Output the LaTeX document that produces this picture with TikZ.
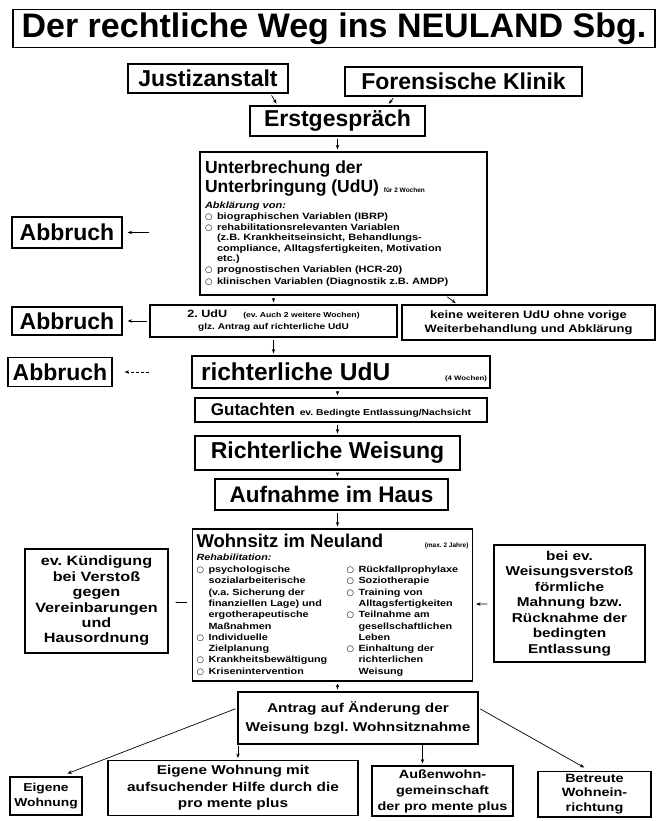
\documentclass[tikz,border=0pt]{standalone}
\usepackage{fontspec}
\setmainfont{Liberation Sans}
\newfontfamily\widefont{Liberation Sans}[FakeStretch=1.2]
\newfontfamily\bulfont{DejaVu Sans}
\usetikzlibrary{arrows.meta}
\parindent=0pt
\frenchspacing
\newcommand\fs[2]{\fontsize{#1}{#2}\selectfont}
\newcommand\bul{{\bulfont\fs{8.5}{8.5}○}}
\newcommand\itm{\par\hangindent=12pt\hangafter=1\noindent\makebox[12pt][l]{\bul}}

\begin{document}
\begin{tikzpicture}[x=1pt, y=-1pt,
 every node/.style = {shape=rectangle, draw, line width=1.2pt, align=flush center, inner sep=3pt},
 htext/.style = {font=\bfseries\fs{#1}{#1}},
 wtext/.style 2 args = {font=\bfseries\widefont\fs{#1}{#2}},
 arr/.style = {-{Stealth[length=4.5pt,width=3.5pt]}, line width=0.7pt, shorten <=2pt, shorten >=2pt}]
\useasboundingbox (0,0) rectangle (658,821);

 \node (title) [htext=34, text width=636pt, minimum height=37pt] at (334,28.5) {Der rechtliche Weg ins NEULAND Sbg.};
 \node (justiz) [htext=23, text width=154pt, minimum height=29pt] at (208,78.5) {Justizanstalt};
 \node (forens) [htext=23, text width=231pt, minimum height=29pt] at (463.5,81.5) {Forensische Klinik};
 \node (erst) [htext=23, text width=169pt, minimum height=30pt] at (337.5,121) {Erstgespräch};

 \node (udu) [font=\bfseries, align=flush left, text width=277pt, inner xsep=5pt, minimum height=143pt] at (343.5,223.5)
 {\fs{17.5}{19}Unterbrechung der\\ Unterbringung (UdU) {\fs{6.5}{7}für 2 Wochen}\\[6pt]
 \widefont\fs{9.2}{10.6}\itshape Abklärung von:\upshape
 \itm biographischen Variablen (IBRP)
 \itm rehabilitationsrelevanten Variablen\newline (z.B. Krankheitseinsicht, Behandlungs-\newline compliance, Alltagsfertigkeiten, Motivation\newline etc.)
 \itm prognostischen Variablen (HCR-20)
 \itm klinischen Variablen (Diagnostik z.B. AMDP)};

 \node (abbr1) [htext=23, text width=104pt, minimum height=31pt] at (67,232.5) {Abbruch};
 \node (udu2) [wtext={8.4}{12}, text width=241pt, minimum height=32pt] at (273.5,321)
 {{\fs{10.5}{12}2. UdU}\hspace{16pt}{\fs{7.2}{8}(ev. Auch 2 weitere Wochen)}\\ glz. Antrag auf richterliche UdU};
 \node (keine) [wtext={10.8}{13.5}, text width=247pt, minimum height=35pt] at (528.5,322.5)
 {keine weiteren UdU ohne vorige\\ Weiterbehandlung und Abklärung};
 \node (abbr2) [htext=23, text width=104pt, minimum height=28pt] at (67,321) {Abbruch};
 \node (abbr3) [htext=23, text width=98pt, minimum height=29pt] at (60,372) {Abbruch};
 \node (richtudu) [htext=24.5, align=flush left, text width=292pt, minimum height=32pt] at (341,372)
 {\hspace*{6pt}richterliche UdU\hfill{\widefont\fs{6.5}{7}(4 Wochen)}};
 \node (gut) [htext=17, text width=286pt, minimum height=24pt] at (341,410)
 {Gutachten {\widefont\fs{8.6}{9}ev. Bedingte Entlassung/Nachsicht}};
 \node (weis) [htext=23, text width=259pt, minimum height=34pt] at (327.5,453) {Richterliche Weisung};
 \node (aufn) [htext=22.5, text width=227pt, minimum height=31pt] at (331.5,494.5) {Aufnahme im Haus};

 % Wohnsitz mit zwei Spalten
 \node (wohn) [font=\bfseries, align=flush left, text width=272pt, inner xsep=4pt, minimum height=152pt] at (332.5,605)
 {\fs{18.5}{20}Wohnsitz im Neuland\hfill{\fs{6.5}{7}(max. 2 Jahre)}\\[2pt]
 \widefont\fs{9}{11.3}\itshape Rehabilitation:\upshape\par
 \begin{minipage}[t]{150pt}\raggedright
 \itm psychologische\newline sozialarbeiterische\newline (v.a. Sicherung der\newline finanziellen Lage) und\newline ergotherapeutische\newline Maßnahmen
 \itm Individuelle\newline Zielplanung
 \itm Krankheitsbewältigung
 \itm Krisenintervention\end{minipage}%
 \begin{minipage}[t]{122pt}\raggedright
 \itm Rückfallprophylaxe
 \itm Soziotherapie
 \itm Training von\newline Alltagsfertigkeiten
 \itm Teilnahme am\newline gesellschaftlichen\newline Leben
 \itm Einhaltung der\newline richterlichen\newline Weisung\end{minipage}};

 \node (kuend) [wtext={13.5}{15.4}, text width=137pt, minimum height=104pt] at (96.5,601)
 {ev. Kündigung\\ bei Verstoß\\ gegen\\ Vereinbarungen\\ und\\ Hausordnung};
 \node (mahn) [wtext={12.8}{15.5}, text width=145pt, minimum height=117pt] at (569.5,603.5)
 {bei ev.\\ Weisungsverstoß\\ förmliche\\ Mahnung bzw.\\ Rücknahme der\\ bedingten\\ Entlassung};
 \node (antrag) [wtext={12.8}{19}, text width=234pt, minimum height=52pt] at (358,718)
 {Antrag auf Änderung der\\ Weisung bzgl. Wohnsitznahme};

 \node (eig) [wtext={11.5}{15}, text width=66pt, minimum height=38pt] at (46,796) {Eigene\\ Wohnung};
 \node (eigmit) [wtext={12.8}{16.5}, text width=244pt, minimum height=55pt] at (233,788)
 {Eigene Wohnung mit\\ aufsuchender Hilfe durch die\\ pro mente plus};
 \node (aussen) [wtext={12}{16}, text width=135pt, minimum height=50pt] at (442.5,791)
 {Außenwohn-\\ gemeinschaft\\ der pro mente plus};
 \node (betr) [wtext={12}{14.5}, text width=107pt, minimum height=40pt] at (594.5,794)
 {Betreute\\ Wohnein-\\ richtung};

 \draw[arr] ([xshift=-18pt]justiz.south east) -- ([xshift=28pt]erst.north west);
 \draw[arr] ([xshift=50pt]forens.south west) -- ([xshift=-38pt]erst.north east);
 \draw[arr] (erst) -- (udu.north -| erst);
 \draw[arr, shorten <=50pt, shorten >=5pt] (udu.west |- abbr1) -- (abbr1);
 \draw[arr] (udu.south -| udu2) -- (udu2);
 \draw[arr] ([xshift=-42pt]udu.south east) -- ([xshift=56pt]keine.north west);
 \draw[arr, shorten >=5pt] (udu2) -- (abbr2);
 \draw[arr] (udu2) -- (udu2 |- richtudu.north);
 \draw[arr, densely dashed, shorten <=42pt, shorten >=12pt] (richtudu) -- (abbr3);
 \draw[arr] (richtudu.south -| erst) -- (gut.north -| erst);
 \draw[arr] (gut.south -| erst) -- (weis.north -| erst);
 \draw[arr] (weis.south -| erst) -- (aufn.north -| erst);
 \draw[arr] (aufn.south -| erst) -- (wohn.north -| erst);
 \draw[line width=0.8pt, shorten <=5pt, shorten >=7pt] (wohn) -- (kuend);
 \draw[arr, shorten <=6pt, shorten >=3pt] (mahn) -- (wohn);
 \draw[arr] (wohn.south -| erst) -- (antrag.north -| erst);
 \draw[arr, shorten >=8pt] ([yshift=10pt]antrag.west) -- ([xshift=14pt]eig.north);
 \draw[arr] ([xshift=5pt]eigmit.north) ++(0,-16) -- ([xshift=5pt]eigmit.north);
 \draw[arr] ([xshift=-20pt]aussen.north) ++(0,-22) -- ([xshift=-20pt]aussen.north);
 \draw[arr, shorten >=6pt] ([yshift=10pt]antrag.east) -- ([xshift=-5pt]betr.north);
\end{tikzpicture}
\end{document}
